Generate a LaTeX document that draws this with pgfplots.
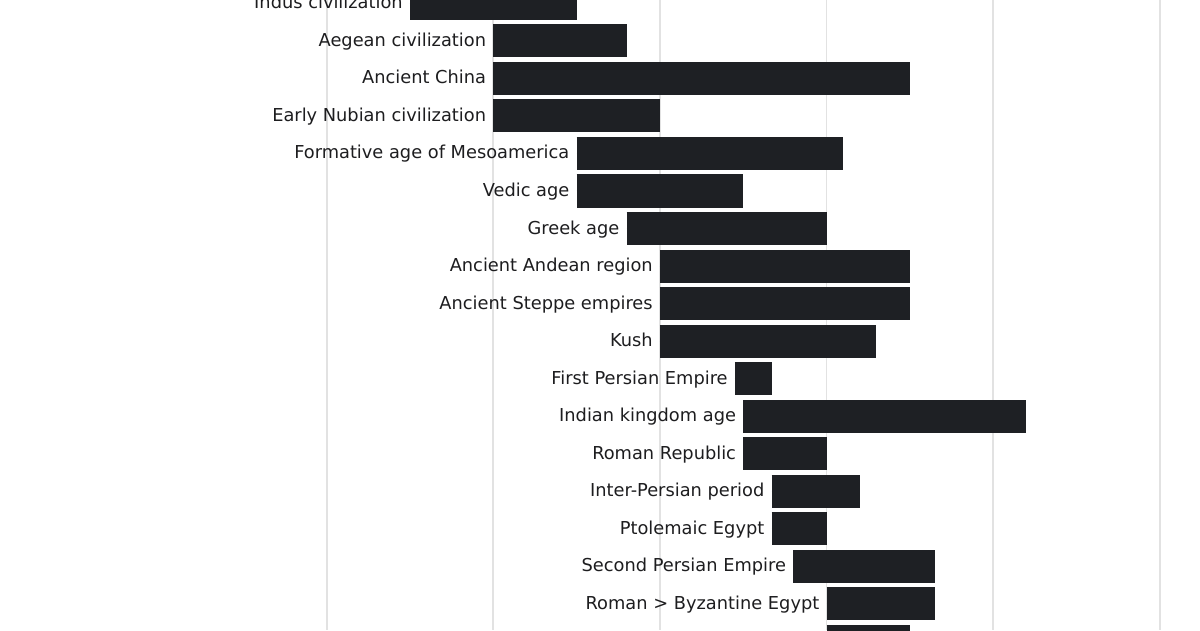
\documentclass[border=0pt]{standalone}
\usepackage{pgfplots}
\pgfplotsset{compat=1.18}
\usepackage{pgfplotstable}
\usepackage{fontspec}
\setmainfont{DejaVu Sans}
\definecolor{barc}{HTML}{1E2024}
\definecolor{txt}{HTML}{1D1D1F}
\definecolor{gridc}{HTML}{E2E2E2}
\pgfplotstableread[col sep=comma]{
row,start,len,label
0,-2500,1000,Indus civilization
1,-2000,800,Aegean civilization
2,-2000,2500,Ancient China
3,-2000,1000,Early Nubian civilization
4,-1500,1600,Formative age of Mesoamerica
5,-1500,1000,Vedic age
6,-1200,1200,Greek age
7,-1000,1500,Ancient Andean region
8,-1000,1500,Ancient Steppe empires
9,-1000,1300,Kush
10,-550,220,First Persian Empire
11,-500,1700,Indian kingdom age
12,-500,500,Roman Republic
13,-330,530,Inter-Persian period
14,-330,330,Ptolemaic Egypt
15,-200,850,Second Persian Empire
16,0,650,Roman > Byzantine Egypt
17,0,500,Roman Empire
}\data
\begin{document}
\begin{tikzpicture}
\begin{axis}[
  scale only axis, width=1200pt, height=630pt,
  xmin=-4960, xmax=2241.5, ymin=-0.0933, ymax=16.707, y dir=reverse,
  axis line style={draw=none}, tick style={draw=none}, major tick length=0pt,
  xtick={-3000,-2000,...,2000}, ytick=\empty, xticklabels={},
  xmajorgrids, grid style={gridc, line width=1.8pt},
  clip=true,
]
\addplot[only marks, mark=*, mark size=0pt, mark options={draw=none,fill=none},
  nodes near coords, point meta=explicit symbolic,
  nodes near coords align={east},
  every node near coord/.append style={anchor=base east, font=\fontsize{17.8}{21}\selectfont, text=txt, inner sep=0pt, xshift=-7pt, yshift=-5.5pt},
  error bars/.cd, x dir=plus, x explicit, error mark=none,
  error bar style={barc, line width=33pt}]
  table[x=start, y=row, x error=len, meta=label]{\data};
\coordinate (ll) at (rel axis cs:0,0);
\coordinate (ur) at (rel axis cs:1,1);
\end{axis}
\pgfresetboundingbox
\path (ll) rectangle (ur);
\end{tikzpicture}
\end{document}
